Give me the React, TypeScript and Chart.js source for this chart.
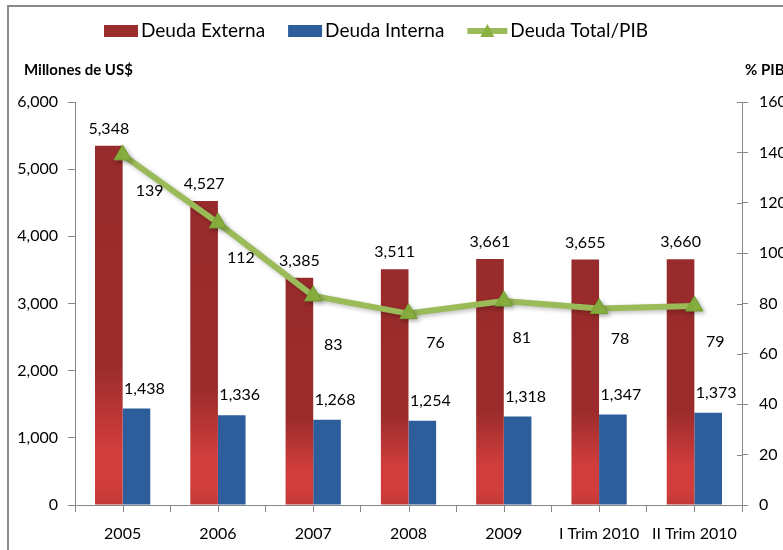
import { useEffect, useRef } from 'react';
import { Chart, registerables } from 'chart.js';

Chart.register(...registerables);

// ---------- data ----------
const categories = ['2005', '2006', '2007', '2008', '2009', 'I Trim 2010', 'II Trim 2010'];
const deudaExterna = [5348, 4527, 3385, 3511, 3661, 3655, 3660];
const deudaInterna = [1438, 1336, 1268, 1254, 1318, 1347, 1373];
const deudaTotalPIB = [139, 112, 83, 76, 81, 78, 79];
const seriesNames = ['Deuda Externa', 'Deuda Interna', 'Deuda Total/PIB'];
const leftAxisTitle = 'Millones de US$';
const rightAxisTitle = '% PIB';

// ---------- style / layout ----------
const FONT = 'Lato, "Open Sans", "DejaVu Sans", sans-serif';
const RED_DARK = '#982B2B';
const RED_LIGHT = '#D03D3C';
const RED_BOTTOM = '#C23936';
const BLUE = '#2D5D9A';
const GREEN = '#9BBB59';
const GREEN_MARK = '#8AB13F';
const GREEN_MARK_BORDER = '#76A035';
const AXIS_GRAY = '#868686';
// label offsets for the line labels (dx, dy) as placed in the original
const lineLabelOffsets: [number, number][] = [
  [27, 36], [23, 35], [20, 49], [27, 29], [18, 37], [21, 30], [21, 36],
];

const fmt = (v: number) => v.toLocaleString('en-US');

export default function App() {
  const ref = useRef<HTMLCanvasElement>(null);

  useEffect(() => {
    const canvas = ref.current!;

    const redFill = (ctx: any) => {
      const chart = ctx.chart;
      const ys = chart.scales?.y;
      if (!chart.chartArea || !ys || typeof ctx.raw !== 'number') return RED_DARK;
      const top = ys.getPixelForValue(ctx.raw);
      const bottom = ys.getPixelForValue(0);
      const g = chart.ctx.createLinearGradient(0, top, 0, bottom);
      g.addColorStop(0, RED_DARK);
      g.addColorStop(0.62, '#9C2C2C');
      g.addColorStop(0.84, RED_LIGHT);
      g.addColorStop(0.94, RED_LIGHT);
      g.addColorStop(1, RED_BOTTOM);
      return g;
    };

    const framePlugin = {
      id: 'frame',
      beforeDraw(chart: any) {
        const c = chart.ctx;
        c.save();
        c.fillStyle = '#ffffff';
        c.fillRect(0, 0, chart.width, chart.height);
        c.fillStyle = '#8a8a8a';
        c.fillRect(7, 5, 2, chart.height - 5);
        c.fillRect(7, 5, chart.width - 7, 2);
        c.restore();
      },
    };

    const extrasPlugin = {
      id: 'extras',
      afterDraw(chart: any) {
        const c = chart.ctx;
        const xs = chart.scales.x;
        const y1 = chart.scales.y1;
        c.save();
        // center ticks on category axis
        c.strokeStyle = AXIS_GRAY;
        c.lineWidth = 1;
        for (let i = 0; i < categories.length; i++) {
          const x = Math.round(xs.getPixelForValue(i)) + 0.5;
          c.beginPath();
          c.moveTo(x, xs.top);
          c.lineTo(x, xs.top + 7);
          c.stroke();
        }
        // inner part of the crossing ticks on right axis
        y1.ticks.forEach((t: any) => {
          const y = Math.round(y1.getPixelForValue(t.value)) + 0.5;
          c.beginPath();
          c.moveTo(y1.left - 5, y);
          c.lineTo(y1.left, y);
          c.stroke();
        });

        // axis titles
        c.fillStyle = '#000';
        c.font = `bold 15px ${FONT}`;
        c.textBaseline = 'middle';
        c.textAlign = 'left';
        c.fillText(leftAxisTitle, 24, 70);
        c.fillText(rightAxisTitle, 745, 70);

        // legend
        c.font = `19px ${FONT}`;
        let x = 104;
        const yc = 31;
        chart.data.datasets.forEach((ds: any, i: number) => {
          if (ds.type === 'line') {
            c.strokeStyle = GREEN;
            c.lineWidth = 6;
            c.beginPath();
            c.moveTo(x, yc);
            c.lineTo(x + 40, yc);
            c.stroke();
            c.fillStyle = GREEN_MARK;
            c.beginPath();
            c.moveTo(x + 20, yc - 7);
            c.lineTo(x + 27, yc + 6);
            c.lineTo(x + 13, yc + 6);
            c.closePath();
            c.fill();
            x += 43;
          } else {
            c.fillStyle = i === 0 ? '#9B2D2D' : BLUE;
            c.fillRect(x, yc - 6, 34, 12);
            x += 37;
          }
          c.fillStyle = '#000';
          c.fillText(ds.label, x, yc);
          x += c.measureText(ds.label).width + 23;
        });

        // data labels
        c.font = `16px ${FONT}`;
        c.textAlign = 'center';
        c.fillStyle = '#000';
        const m0 = chart.getDatasetMeta(0);
        m0.data.forEach((el: any, i: number) => {
          c.fillText(fmt(deudaExterna[i]), el.x, el.y - 17);
        });
        const m1 = chart.getDatasetMeta(1);
        m1.data.forEach((el: any, i: number) => {
          c.fillText(fmt(deudaInterna[i]), el.x + 8, el.y - 20);
        });
        const m2 = chart.getDatasetMeta(2);
        m2.data.forEach((el: any, i: number) => {
          const [dx, dy] = lineLabelOffsets[i];
          c.fillText(String(deudaTotalPIB[i]), el.x + dx, el.y + dy);
        });
        c.restore();
      },
    };

    const shadowPlugin = {
      id: 'lineShadow',
      beforeDatasetDraw(chart: any, args: any) {
        if (args.index === 2) {
          const c = chart.ctx;
          c.save();
          c.shadowColor = 'rgba(0,0,0,0.25)';
          c.shadowBlur = 4;
          c.shadowOffsetX = 2;
          c.shadowOffsetY = 2;
        }
      },
      afterDatasetDraw(chart: any, args: any) {
        if (args.index === 2) chart.ctx.restore();
      },
    };

    const chart = new Chart(canvas, {
      data: {
        labels: categories,
        datasets: [
          {
            type: 'bar',
            label: seriesNames[0],
            data: deudaExterna,
            backgroundColor: redFill,
            yAxisID: 'y',
            order: 2,
            barPercentage: 1,
            categoryPercentage: 0.58,
          },
          {
            type: 'bar',
            label: seriesNames[1],
            data: deudaInterna,
            backgroundColor: BLUE,
            yAxisID: 'y',
            order: 2,
            barPercentage: 1,
            categoryPercentage: 0.58,
          },
          {
            type: 'line',
            label: seriesNames[2],
            data: deudaTotalPIB,
            yAxisID: 'y1',
            order: 0,
            borderColor: GREEN,
            borderWidth: 6,
            tension: 0,
            pointStyle: 'triangle',
            pointRadius: 10,
            pointBackgroundColor: GREEN_MARK,
            pointBorderColor: GREEN_MARK_BORDER,
            pointBorderWidth: 1,
          },
        ],
      } as any,
      options: {
        responsive: false,
        animation: false,
        devicePixelRatio: 1,
        layout: { padding: { top: 102, left: 0, right: 0, bottom: 0 } },
        plugins: {
          legend: { display: false },
          tooltip: { enabled: false },
          title: { display: false },
        },
        scales: {
          x: {
            type: 'category',
            offset: true,
            grid: {
              display: true,
              drawOnChartArea: false,
              drawTicks: true,
              tickLength: 7,
              color: AXIS_GRAY,
              offset: true,
            },
            border: { color: AXIS_GRAY, width: 1 },
            ticks: {
              color: '#000',
              font: { family: FONT, size: 16 },
              padding: 12,
              maxRotation: 0,
              autoSkip: false,
            },
            afterFit: (s: any) => {
              s.height = 45;
            },
          },
          y: {
            type: 'linear',
            position: 'left',
            min: 0,
            max: 6000,
            grid: {
              drawOnChartArea: false,
              drawTicks: true,
              tickLength: 7,
              color: AXIS_GRAY,
            },
            border: { color: AXIS_GRAY, width: 1 },
            ticks: {
              stepSize: 1000,
              color: '#000',
              font: { family: FONT, size: 16 },
              padding: 10,
              callback: (v: any) => fmt(Number(v)),
            },
            afterFit: (s: any) => {
              s.width = 75;
            },
          },
          y1: {
            type: 'linear',
            position: 'right',
            min: 0,
            max: 160,
            grid: {
              drawOnChartArea: false,
              drawTicks: true,
              tickLength: 6,
              color: AXIS_GRAY,
            },
            border: { color: AXIS_GRAY, width: 1 },
            ticks: {
              stepSize: 20,
              color: '#000',
              font: { family: FONT, size: 16 },
              padding: 11,
            },
            afterFit: (s: any) => {
              s.width = 41;
            },
          },
        },
      } as any,
      plugins: [framePlugin, shadowPlugin, extrasPlugin],
    });

    return () => chart.destroy();
  }, []);

  return (
    <div style={{ position: 'fixed', left: 0, top: 0, width: 783, height: 550, background: '#fff', overflow: 'hidden' }}>
      <canvas ref={ref} width={783} height={550} style={{ display: 'block', width: 783, height: 550 }} />
    </div>
  );
}
